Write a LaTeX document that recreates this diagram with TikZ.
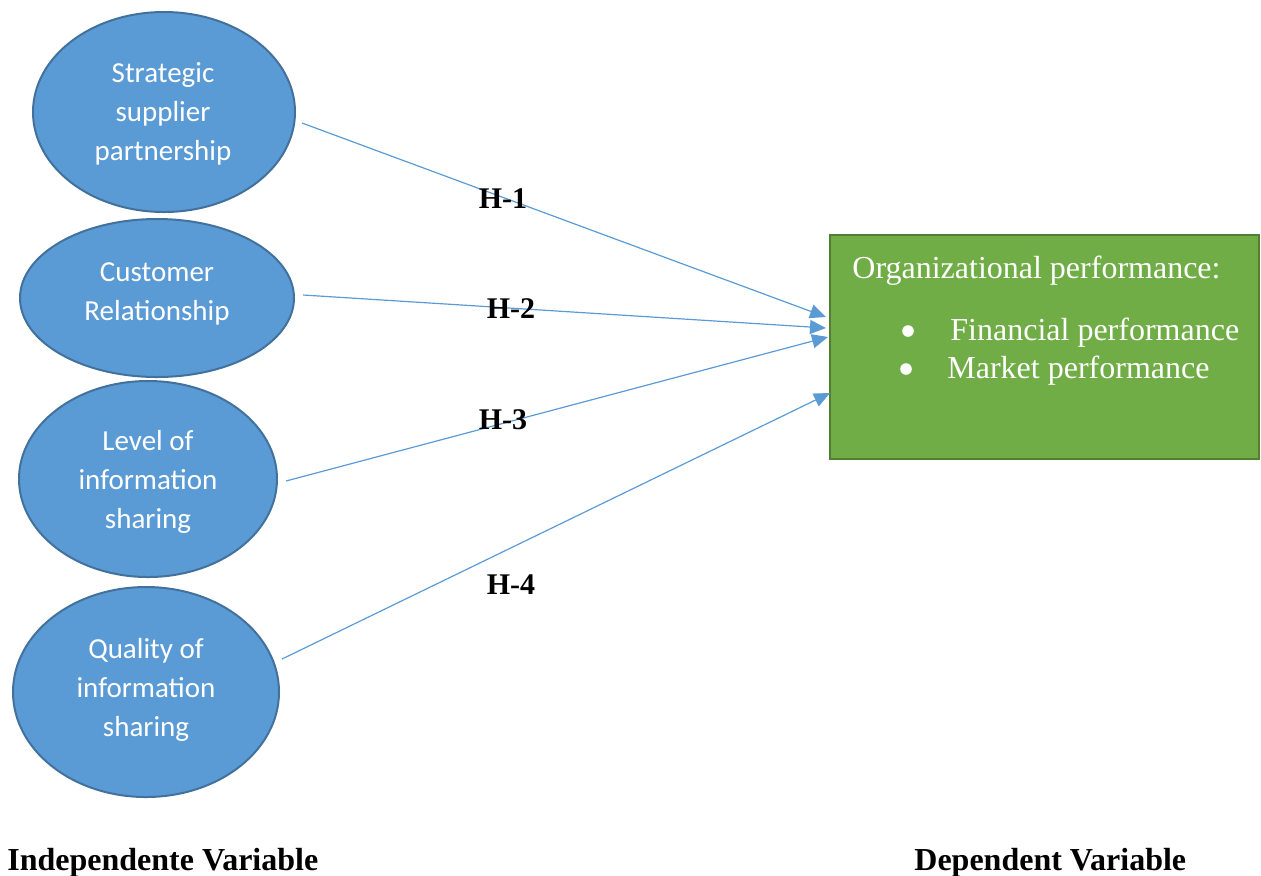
\documentclass[tikz,border=0pt]{standalone}
\usepackage{fontspec}
\setmainfont{Liberation Serif}
\newfontfamily\calib{Carlito}
\usetikzlibrary{shapes.geometric,arrows.meta}
\definecolor{ellfill}{HTML}{5B9BD5}
\definecolor{elldraw}{HTML}{41719C}
\definecolor{boxfill}{HTML}{70AD47}
\definecolor{boxdraw}{HTML}{507E32}
\definecolor{arrowcol}{HTML}{5B9BD5}
\begin{document}
\begin{tikzpicture}[x=0.5pt,y=-0.5pt,
  varell/.style={ellipse,fill=ellfill,draw=elldraw,line width=1pt,inner sep=0pt},
  elltext/.style={text=white,font=\calib\fontsize{14.5pt}{19.5pt}\selectfont,align=center,inner sep=0pt},
  perfbox/.style={rectangle,fill=boxfill,draw=boxdraw,line width=1pt,inner sep=0pt},
  boxtext/.style={text=white,font=\fontsize{16pt}{19pt}\selectfont,inner sep=0pt,anchor=base west},
  hlabel/.style={font=\bfseries\fontsize{15pt}{18pt}\selectfont,inner sep=0pt,anchor=base},
  footlabel/.style={font=\bfseries\fontsize{16pt}{19pt}\selectfont,inner sep=0pt,anchor=base west},
  link/.style={draw=arrowcol,line width=0.6pt,-{Triangle[length=8pt,width=7pt]}}
]
\useasboundingbox (0,0) rectangle (1261,875);
% ellipses
\node[varell,minimum width=131pt,minimum height=100pt] (s1) at (164,112) {};
\node[varell,minimum width=137pt,minimum height=79pt] (s2) at (157,298) {};
\node[varell,minimum width=129pt,minimum height=98pt] (s3) at (148,479) {};
\node[varell,minimum width=133pt,minimum height=105pt] (s4) at (146,692) {};
\node[elltext] (t1) at (163,114) {Strategic\\supplier\\partnership};
\node[elltext] (t2) at (157,294) {Customer\\Relationship};
\node[elltext] (t3) at (148,482) {Level of\\information\\sharing};
\node[elltext] (t4) at (146,690) {Quality of\\information\\sharing};
% box
\node[perfbox,minimum width=214.5pt,minimum height=112pt] (op) at (1044.5,347) {};
\node[boxtext] (ttl) at (852,278) {Organizational performance:};
\node[boxtext] (b1) at (950,340) {Financial performance};
\node[boxtext] (b2) at (947,378) {Market performance};
\fill[white] (908,331) circle (2.9pt);
\fill[white] (906,369) circle (2.9pt);
% connectors
\draw[link] ([shift={(6,11)}]s1.east) -- ([shift={(-3,-30)}]op.west);
\draw[link] ([shift={(8,-3)}]s2.east) -- ([shift={(-3,-19)}]op.west);
\draw[link] ([shift={(8,2)}]s3.east) -- ([shift={(-1,-10)}]op.west);
\draw[link] ([shift={(2,-33)}]s4.east) -- ([shift={(1,46)}]op.west);
% labels
\node[hlabel] (h1) at (503,208) {H-1};
\node[hlabel] (h2) at (511,318) {H-2};
\node[hlabel] (h3) at (503,429) {H-3};
\node[hlabel] (h4) at (511,594) {H-4};
\node[footlabel] (iv) at (7,870) {Independente Variable};
\node[footlabel] (dv) at (914,870) {Dependent Variable};
\end{tikzpicture}
\end{document}
